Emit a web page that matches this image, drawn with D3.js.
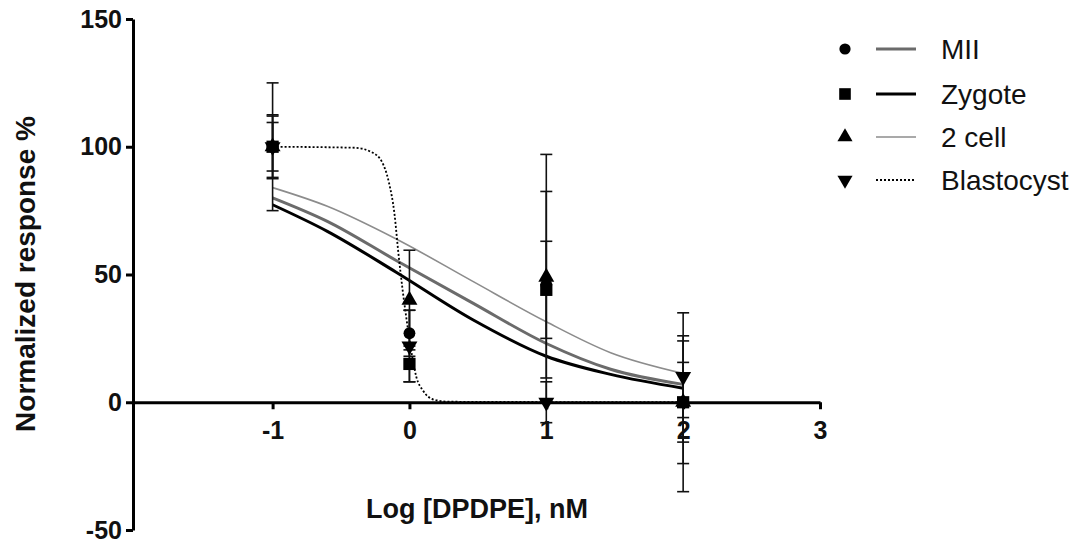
<!DOCTYPE html>
<html>
<head>
<meta charset="utf-8">
<script src="https://cdn.jsdelivr.net/npm/d3@7"></script>
<style>
  html, body { margin: 0; padding: 0; background: #fff; }
  svg { display: block; font-family: "Liberation Sans", Arial, sans-serif; }
</style>
</head>
<body>
<svg id="chart" width="1080" height="550"></svg>
<script>
// ---- data ----
const doses = [-1, 0, 1, 2];
const seriesNames = ["MII", "Zygote", "2 cell", "Blastocyst"];

const miiMean    = [100, 27, 46, 0];
const miiErr     = [12.5, 9, 36.5, 24];
const zygoteMean = [100, 15, 44, 0];
const zygoteErr  = [25, 7, 19, 35];
const cell2Mean  = [100, 40, 49, 0];
const cell2Err   = [9.5, 19.5, 48, 15.6];
const blastMean  = [100, 22, 0, 10];
const blastErr   = [12, 14, 8, 16];

// fitted curves
const fitX       = [-1, -0.6, -0.1, 0.46, 1, 1.47, 2];
const miiFit     = [80, 70.8, 55.6, 38.9, 23, 12.9, 7];
const zygoteFit  = [77.3, 66.9, 51, 32.4, 18, 10.9, 5.5];
const cell2Fit   = [84, 76.7, 64, 47.4, 31.5, 19.4, 11.3];
const blastFitX  = [-1, -0.4, -0.28, -0.2, -0.15, -0.11, -0.08, -0.05, -0.02, 0.02, 0.05, 0.1, 0.18, 0.3, 2];
const blastFit   = [100, 99.6, 98, 94, 86, 74, 58, 44, 32, 18, 10, 4.5, 1, 0.2, 0];

const xTicks = [-1, 0, 1, 2, 3];
const yTicks = [-50, 0, 50, 100, 150];

// ---- layout ----
const svg = d3.select("#chart");
const x = d3.scaleLinear().domain([-2.02, 3]).range([133, 820]);
const y = d3.scaleLinear().domain([-50, 150]).range([530, 19]);

const styles = {
  "MII":        { stroke: "#6b6b6b", width: 3,   dash: null,  symbol: d3.symbolCircle,   size: 110, rot: 0 },
  "Zygote":     { stroke: "#000000", width: 3,   dash: null,  symbol: d3.symbolSquare,   size: 150, rot: 0 },
  "2 cell":     { stroke: "#8c8c8c", width: 1.6, dash: null,  symbol: d3.symbolTriangle, size: 110, rot: 0 },
  "Blastocyst": { stroke: "#000000", width: 1.8, dash: "2,2", symbol: d3.symbolTriangle, size: 110, rot: 180 }
};

const series = [
  { name: "MII",        mean: miiMean,    err: miiErr,    fx: fitX,      fy: miiFit },
  { name: "Zygote",     mean: zygoteMean, err: zygoteErr, fx: fitX,      fy: zygoteFit },
  { name: "2 cell",     mean: cell2Mean,  err: cell2Err,  fx: fitX,      fy: cell2Fit },
  { name: "Blastocyst", mean: blastMean,  err: blastErr,  fx: blastFitX, fy: blastFit }
];

const fmt = d => String(d);

// axes
const yAxis = d3.axisLeft(y).tickValues(yTicks).tickFormat(fmt).tickSize(7).tickSizeOuter(0).tickPadding(4);
const gy = svg.append("g").attr("transform", `translate(${x.range()[0]},0)`).call(yAxis);
const xAxis = d3.axisBottom(x).tickValues(xTicks).tickFormat(fmt).tickSize(7).tickSizeOuter(0).tickPadding(12);
const gx = svg.append("g").attr("transform", `translate(0,${y(0)})`).call(xAxis);

[gx, gy].forEach(g => {
  g.attr("font-size", null).attr("font-family", null);
  g.select(".domain").attr("stroke", "#000").attr("stroke-width", 3);
  g.selectAll(".tick line").attr("stroke", "#000").attr("stroke-width", 3);
  g.selectAll(".tick text").attr("fill", "#111")
    .style("font-size", "25px").style("font-weight", "bold")
    .style("font-family", "'Liberation Sans', Arial, sans-serif");
});

// fitted curves
const line = d3.line().x(d => x(d[0])).y(d => y(d[1])).curve(d3.curveMonotoneX);
const curveOrder = ["2 cell", "MII", "Zygote", "Blastocyst"];
curveOrder.forEach(n => {
  const s = series.find(d => d.name === n);
  const st = styles[n];
  svg.append("path")
    .attr("d", line(s.fx.map((v, i) => [v, s.fy[i]])))
    .attr("fill", "none")
    .attr("stroke", st.stroke)
    .attr("stroke-width", st.width)
    .attr("stroke-dasharray", st.dash);
});

// error bars
const capW = 6;
series.forEach(s => {
  const g = svg.append("g").attr("stroke", "#111").attr("stroke-width", 1.6);
  doses.forEach((dx, i) => {
    const cx = x(dx), lo = y(s.mean[i] - s.err[i]), hi = y(s.mean[i] + s.err[i]);
    g.append("line").attr("x1", cx).attr("x2", cx).attr("y1", lo).attr("y2", hi);
    g.append("line").attr("x1", cx - capW).attr("x2", cx + capW).attr("y1", lo).attr("y2", lo);
    g.append("line").attr("x1", cx - capW).attr("x2", cx + capW).attr("y1", hi).attr("y2", hi);
  });
});

// markers (square ends on top like reference)
const markerOrder = ["Blastocyst", "2 cell", "MII", "Zygote"];
markerOrder.forEach(n => {
  const s = series.find(d => d.name === n);
  const st = styles[n];
  const sym = d3.symbol().type(st.symbol).size(st.size);
  doses.forEach((dx, i) => {
    svg.append("path").attr("d", sym())
      .attr("fill", "#000")
      .attr("transform", `translate(${x(dx)},${y(s.mean[i])}) rotate(${st.rot})`);
  });
});

// axis titles
svg.append("text")
  .attr("x", 477).attr("y", 518)
  .attr("text-anchor", "middle")
  .style("font-size", "27px").style("font-weight", "bold").attr("fill", "#111")
  .text("Log [DPDPE], nM");

svg.append("text")
  .attr("transform", "translate(35,274) rotate(-90)")
  .attr("text-anchor", "middle")
  .style("font-size", "28px").style("font-weight", "bold").attr("fill", "#111")
  .text("Normalized response %");

// legend
const legRows = [49, 94, 137, 180];
seriesNames.forEach((n, i) => {
  const st = styles[n];
  const ly = legRows[i];
  const sym = d3.symbol().type(st.symbol).size(st.size * 0.9);
  svg.append("path").attr("d", sym()).attr("fill", "#000")
    .attr("transform", `translate(845,${ly}) rotate(${st.rot})`);
  svg.append("line").attr("x1", 876).attr("x2", 916).attr("y1", ly).attr("y2", ly)
    .attr("stroke", st.stroke).attr("stroke-width", st.width).attr("stroke-dasharray", st.dash);
  svg.append("text").attr("x", 941).attr("y", ly).attr("dy", "0.35em")
    .style("font-size", "28px").attr("fill", "#111").text(n);
});
</script>
</body>
</html>
